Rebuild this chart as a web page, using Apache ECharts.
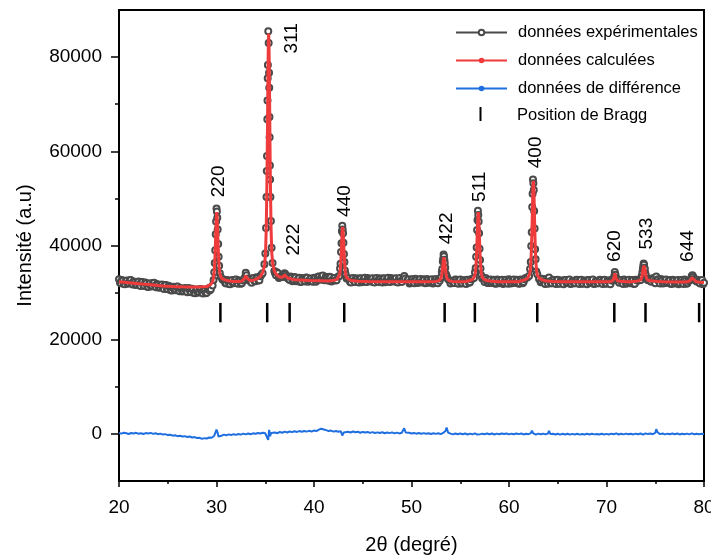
<!DOCTYPE html>
<html>
<head>
<meta charset="utf-8">
<script src="https://cdn.jsdelivr.net/npm/echarts@6/dist/echarts.min.js"></script>
<style>
  html, body { margin: 0; padding: 0; background: #fff; }
  #chart { width: 711px; height: 558px; }
</style>
</head>
<body>
<div id="chart"></div>
<script>
// Rietveld refinement of a spinel ferrite powder pattern: observed, calculated,
// difference curves, Bragg reflection positions and (hkl) indexing.

// Observed intensities [2θ (°), counts] — even tenths and peak scans
const experimental = [
  [20.0,32850],[20.2,31980],[20.4,32540],[20.6,31760],[20.8,32590],[21.0,32050],[21.2,32660],[21.4,31700],
  [21.6,32200],[21.8,31740],[22.0,32350],[22.2,31380],[22.4,32270],[22.6,31400],[22.8,31960],[23.0,31180],
  [23.2,32010],[23.4,31470],[23.6,32080],[23.8,31120],[24.0,31620],[24.2,31120],[24.4,31740],[24.6,30780],
  [24.8,31630],[25.0,30720],[25.2,31250],[25.4,30440],[25.6,31240],[25.8,30670],[26.0,31270],[26.2,30300],
  [26.4,30800],[26.6,30340],[26.8,30990],[27.0,30070],[27.2,30950],[27.4,30080],[27.6,30640],[27.8,29850],
  [28.0,30680],[28.2,30140],[28.4,30740],[28.6,29810],[28.8,30420],[29.0,29980],[29.2,30900],
  [29.42,30700],[29.60,31500],[29.70,32700],[29.77,34300],[29.82,36300],[29.87,39000],[29.92,42400],[29.96,45100],
  [30.00,47850],[30.04,47200],[30.08,45900],[30.12,43400],[30.17,40300],[30.22,37600],[30.27,35700],[30.34,34100],
  [30.44,33300],[30.62,32800],
  [30.8,32750],[31.0,31920],[31.2,32520],[31.4,31780],[31.6,32650],[31.8,32150],[32.0,32800],[32.2,31880],
  [32.4,32420],[32.6,32000],[32.8,32700],[32.9,33200],[33.0,34200],[33.08,33700],[33.18,33000],[33.3,32600],
  [33.4,32900],[33.6,32070],[33.8,33100],[34.0,32420],[34.2,33170],[34.4,32630],[34.6,33800],
  [34.73,34100],[34.91,36000],[35.01,38300],[35.08,43700],[35.13,50300],[35.16,55800],[35.18,59000],[35.21,66800],
  [35.23,70800],[35.25,75500],[35.27,78300],[35.31,85500],[35.35,83000],[35.39,76700],[35.41,73500],[35.43,67300],
  [35.45,63000],[35.48,57000],[35.50,54000],[35.53,50300],[35.58,45200],[35.65,39500],[35.75,36300],[35.93,34600],
  [36.0,34150],[36.2,34300],[36.4,33080],[36.6,33420],
  [36.8,33300],[36.9,33700],[36.98,34100],[37.06,33900],[37.14,33500],[37.26,33100],
  [37.4,32900],[37.6,33400],[37.8,32420],[38.0,33300],[38.2,32420],[38.4,33020],[38.6,32230],[38.8,33100],
  [39.0,32550],[39.2,33200],[39.4,32280],[39.6,32820],[39.8,32400],[40.0,33150],[40.2,32320],[40.4,33350],
  [40.6,32720],[40.8,33520],[41.0,32680],[41.2,33350],[41.4,32750],[41.6,33350],[41.8,32380],[42.0,32920],
  [42.2,32550],
  [42.32,32600],[42.50,33400],[42.60,33500],[42.67,35100],[42.72,36100],[42.77,38600],[42.82,40500],[42.86,43000],
  [42.90,44200],[42.94,43400],[42.98,42600],[43.02,40600],[43.07,38200],[43.12,36500],[43.17,34700],[43.24,33900],
  [43.34,33000],[43.52,32900],
  [43.6,33050],[43.8,32170],[44.0,33100],[44.2,32270],[44.4,32870],[44.6,32130],[44.8,33000],[45.0,32500],
  [45.2,33150],[45.4,32230],[45.6,32770],[45.8,32350],[46.0,33050],[46.2,32170],[46.4,33100],[46.6,32270],
  [46.8,32870],[47.0,32130],[47.2,33000],[47.4,32500],[47.6,33150],[47.8,32230],[48.0,32770],[48.2,32350],
  [48.4,33050],[48.6,32170],[48.8,33100],[49.0,32270],[49.15,33000],[49.26,33500],[49.35,33000],
  [49.6,32670],[49.8,31930],[50.0,32800],[50.2,32300],[50.4,32950],[50.6,32030],[50.8,32570],[51.0,32150],
  [51.2,32850],[51.4,31970],[51.6,32900],[51.8,32070],[52.0,32670],[52.2,31930],[52.4,32800],[52.6,32300],
  [52.8,32950],
  [52.89,32500],[52.99,33100],[53.06,33300],[53.11,34400],[53.16,35000],[53.21,36600],[53.25,37200],[53.29,38100],
  [53.33,37700],[53.37,37000],[53.41,36300],[53.46,35300],[53.51,34000],[53.56,33700],[53.63,33400],[53.73,32900],
  [53.91,32500],
  [54.0,31930],[54.2,32470],[54.4,32050],[54.6,32750],[54.8,31870],[55.0,32800],[55.2,31970],[55.4,32570],
  [55.6,31830],[55.8,32700],[56.0,32200],
  [56.23,32900],[56.41,33100],[56.51,34300],[56.58,35200],[56.63,37600],[56.68,39600],[56.73,43300],[56.77,45400],
  [56.81,47400],[56.85,46500],[56.89,45100],[56.93,42600],[56.98,39300],[57.03,36900],[57.08,35100],[57.15,33700],
  [57.25,33000],[57.43,32800],
  [57.6,33100],[57.8,32030],[58.0,32470],[58.2,32050],[58.4,32750],[58.6,31870],[58.8,32800],[59.0,31970],
  [59.2,32570],[59.4,31830],[59.6,32700],[59.8,32200],[60.0,32850],[60.2,31930],[60.4,32470],[60.6,32050],
  [60.8,32750],[61.0,31870],[61.2,32800],[61.4,31970],[61.6,32820],
  [61.88,33200],[62.06,33500],[62.16,35000],[62.23,36500],[62.28,39900],[62.33,42800],[62.38,48200],[62.42,51000],
  [62.46,54000],[62.50,53200],[62.54,51800],[62.58,47300],[62.63,43600],[62.68,39200],[62.73,37100],[62.80,34500],
  [62.90,33900],[63.08,32900],
  [63.25,32180],[63.4,32950],[63.6,32300],[63.8,32850],[64.0,31900],[64.1,33200],[64.2,32420],[64.4,32000],
  [64.6,32700],[64.8,31820],[65.0,32750],[65.2,31920],[65.4,32520],[65.6,31780],[65.8,32650],[66.0,32150],
  [66.2,32800],[66.4,31880],[66.6,32420],[66.8,32000],[67.0,32700],[67.2,31820],[67.4,32750],[67.6,31920],
  [67.8,32520],[68.0,31780],[68.2,32650],[68.4,32150],[68.6,32800],[68.8,31880],[69.0,32420],[69.2,32000],
  [69.4,32700],[69.6,31820],[69.8,32750],[70.0,31920],[70.2,32520],[70.4,31780],
  [70.6,32500],[70.7,32850],[70.78,33400],[70.85,34400],[70.92,33800],[71.0,33100],[71.1,32700],[71.25,32400],
  [71.4,32650],[71.6,32150],[71.8,32800],[72.0,31880],[72.2,32420],[72.4,32000],[72.6,32700],[72.8,31820],
  [73.0,32750],
  [73.23,32500],[73.41,32800],[73.51,32700],[73.58,33300],[73.63,33500],[73.68,34300],[73.73,35000],[73.77,35600],
  [73.81,36200],[73.85,35900],[73.89,35300],[73.93,35000],[73.98,34100],[74.03,33700],[74.08,33000],[74.15,32900],
  [74.25,32600],[74.43,32700],
  [74.6,32320],[74.8,32820],[75.0,31980],[75.1,33400],[75.2,32800],[75.4,32250],[75.6,32900],[75.8,31930],
  [76.0,32470],[76.2,32050],[76.4,32700],[76.6,31820],[76.8,32750],[77.0,31920],[77.2,32520],[77.4,31780],
  [77.6,32650],[77.8,32150],[78.0,32800],[78.2,31880],
  [78.4,32450],[78.55,32600],[78.65,32900],[78.74,33500],[78.82,33700],[78.9,33300],[79.0,32900],[79.1,32600],
  [79.24,32350],[79.4,32370],[79.6,31950],[79.8,32650],[80.0,32100]
];

// Observed intensities [2θ (°), counts] — odd tenths of the background scan
const experimentalOdd = [
  [20.1,32100],[20.3,32690],[20.5,31800],[20.7,32390],[20.9,31860],[21.1,32600],[21.3,31990],[21.5,32370],
  [21.7,31610],[21.9,32240],[22.1,31700],[22.3,32240],[22.5,31550],[22.7,32140],[22.9,31250],[23.1,31840],
  [23.3,31310],[23.5,32050],[23.7,31440],[23.9,31810],[24.1,31040],[24.3,31630],[24.5,31120],[24.7,31620],
  [24.9,30890],[25.1,31440],[25.3,30520],[25.5,31080],[25.7,30520],[25.9,31240],[26.1,30620],[26.3,31000],
  [26.5,30240],[26.7,30860],[26.9,30390],[27.1,30920],[27.3,30230],[27.5,30820],[27.7,29920],[27.9,30510],
  [28.1,29980],[28.3,30710],[28.5,30110],[28.7,30560],[28.9,29870],[29.1,30650],[29.3,30420],
  [30.7,32700],[30.9,32050],[31.1,32680],[31.3,31830],[31.5,32460],[31.7,31970],[31.9,32750],[32.1,32180],
  [32.3,32600],[32.5,31880],[32.7,32550],[33.5,32340],[33.7,33000],[33.9,32470],[34.1,33250],[34.3,32580],
  [34.5,33460],[36.1,33670],[36.3,34100],[36.5,33280],[36.7,33600],
  [37.5,32680],[37.7,33200],[37.9,32690],[38.1,33220],[38.3,32550],[38.5,33160],[38.7,32280],[38.9,32880],
  [39.1,32370],[39.3,33150],[39.5,32580],[39.7,33000],[39.9,32300],[40.1,33030],[40.3,32670],[40.5,33400],
  [40.7,32950],[40.9,33630],[41.1,32630],[41.3,33110],[41.5,32540],[41.7,33270],[41.9,32680],[42.1,33120],
  [43.7,32230],[43.9,32900],[44.1,32470],[44.3,33050],[44.5,32400],[44.7,33030],[44.9,32180],[45.1,32810],
  [45.3,32320],[45.5,33100],[45.7,32530],[45.9,32950],[46.1,32230],[46.3,32900],[46.5,32470],[46.7,33050],
  [46.9,32400],[47.1,33030],[47.3,32180],[47.5,32810],[47.7,32320],[47.9,33100],[48.1,32530],[48.3,32950],
  [48.5,32230],[48.7,32900],[48.9,32470],
  [49.7,32850],[49.9,32200],[50.1,32830],[50.3,31980],[50.5,32610],[50.7,32120],[50.9,32900],[51.1,32330],
  [51.3,32750],[51.5,32030],[51.7,32700],[51.9,32270],[52.1,32850],[52.3,32200],[52.5,32830],[52.7,31980],
  [54.1,32510],[54.3,32020],[54.5,32800],[54.7,32230],[54.9,32650],[55.1,31930],[55.3,32600],[55.5,32170],
  [55.7,32750],[55.9,32100],[56.1,32830],
  [57.5,32230],[57.7,32660],[57.9,32020],[58.1,32800],[58.3,32230],[58.5,32650],[58.7,31930],[58.9,32600],
  [59.1,32170],[59.3,32750],[59.5,32100],[59.7,32730],[59.9,31880],[60.1,32510],[60.3,32020],[60.5,32800],
  [60.7,32230],[60.9,32650],[61.1,31930],[61.3,32600],[61.5,32250],[61.7,33100],
  [63.3,32400],[63.5,32880],[63.7,31830],[63.9,32460],[64.3,31970],[64.5,32750],[64.7,32180],[64.9,32600],
  [65.1,31880],[65.3,32550],[65.5,32120],[65.7,32700],[65.9,32050],[66.1,32680],[66.3,31830],[66.5,32460],
  [66.7,31970],[66.9,32750],[67.1,32180],[67.3,32600],[67.5,31880],[67.7,32550],[67.9,32120],[68.1,32700],
  [68.3,32050],[68.5,32680],[68.7,31830],[68.9,32460],[69.1,31970],[69.3,32750],[69.5,32180],[69.7,32600],
  [69.9,31880],[70.1,32550],[70.3,32120],[70.5,32750],
  [71.3,32100],[71.5,32680],[71.7,31830],[71.9,32460],[72.1,31970],[72.3,32750],[72.5,32180],[72.7,32600],
  [72.9,31880],[73.1,32650],
  [74.5,32520],[74.7,33050],[74.9,32300],[75.3,32800],[75.5,31930],[75.7,32540],[75.9,32020],[76.1,32800],
  [76.3,32200],[76.5,32600],[76.7,31880],[76.9,32550],[77.1,32120],[77.3,32700],[77.5,32050],[77.7,32680],
  [77.9,31830],[78.1,32460],[78.3,31990],[79.3,32750],[79.5,32130],[79.7,32550],[79.9,31780]
];

// Refined (calculated) profile [2θ (°), counts]
const calculated = [
  [20.0,32300],[20.5,32200],[21,32100],[21.5,32000],[22,31900],[22.5,31800],[23,31700],[23.5,31600],
  [24,31500],[24.5,31420],[25,31350],[25.5,31300],[26,31260],[26.5,31230],[27,31210],[27.5,31200],
  [28,31210],[28.5,31230],[29.0,31280],[29.17,31330],
  [29.42,31750],[29.60,32300],[29.70,33100],[29.77,34550],[29.82,36400],[29.86,38400],[29.90,40900],[29.94,43600],
  [29.98,45750],[30.02,47100],[30.06,46250],[30.10,44100],[30.14,41600],[30.18,39100],[30.22,37250],[30.27,35450],
  [30.34,34050],[30.44,33350],[30.62,32900],[30.87,32680],
  [31.3,32450],[31.8,32380],[32.3,32380],[32.6,32420],[32.8,32600],[32.9,33000],[32.97,33600],[33.03,33900],
  [33.09,33600],[33.16,33050],[33.26,32700],[33.45,32500],[33.8,32650],[34.1,32850],[34.3,33100],
  [34.50,33450],[34.75,34270],[34.93,35840],[35.03,38450],[35.10,43420],[35.15,49960],[35.19,56760],[35.23,65440],
  [35.27,74540],[35.31,82020],[35.35,85000],[35.39,82020],[35.43,74540],[35.47,65440],[35.51,56760],[35.55,49960],
  [35.60,43420],[35.67,38450],[35.77,36040],[35.95,34470],[36.20,33700],[36.45,33300],[36.6,33150],
  [36.8,33250],[36.9,33500],[36.97,33800],[37.03,33900],[37.09,33800],[37.16,33450],[37.26,33150],[37.45,32950],
  [37.8,32800],[38.5,32650],[39.5,32550],[40.5,32500],[41.5,32450],
  [42.09,32620],[42.34,32800],[42.52,33140],[42.62,33715],[42.69,34810],[42.74,36250],[42.78,37740],[42.82,39650],
  [42.86,41650],[42.90,43295],[42.94,43950],[42.98,43295],[43.02,41650],[43.06,39650],[43.10,37740],[43.14,36250],
  [43.19,34810],[43.26,33660],[43.36,33090],[43.54,32750],[43.79,32570],
  [44.5,32400],[45.5,32350],[47,32300],[48.5,32300],[50,32300],[51.5,32300],
  [52.48,32380],[52.73,32465],[52.91,32630],[53.01,32905],[53.08,33430],[53.13,34115],[53.17,34830],[53.21,35740],
  [53.25,36700],[53.29,37490],[53.33,37800],[53.37,37490],[53.41,36700],[53.45,35740],[53.49,34830],[53.53,34115],
  [53.58,33430],[53.65,32905],[53.75,32630],[53.93,32465],[54.18,32380],
  [55,32330],[55.6,32350],
  [56.00,32570],[56.25,32790],[56.43,33235],[56.53,33970],[56.60,35370],[56.65,37220],[56.69,39135],[56.73,41585],
  [56.77,44150],[56.81,46260],[56.85,47100],[56.89,46260],[56.93,44150],[56.97,41585],[57.01,39135],[57.05,37220],
  [57.10,35370],[57.17,33970],[57.27,33235],[57.45,32790],[57.70,32570],
  [58.2,32400],[59,32320],[60,32300],[61,32320],
  [61.65,32720],[61.90,33040],[62.08,33680],[62.18,34740],[62.25,36770],[62.30,39430],[62.34,42200],[62.38,45730],
  [62.42,49440],[62.46,52490],[62.50,53700],[62.54,52490],[62.58,49440],[62.62,45730],[62.66,42200],[62.70,39430],
  [62.75,36770],[62.82,34740],[62.92,33680],[63.10,33040],[63.35,32720],
  [63.8,32450],[64.5,32350],[65.5,32300],[67,32300],[68.5,32300],[70,32300],
  [70.45,32350],[70.6,32450],[70.7,32700],[70.77,33100],[70.82,33600],[70.87,34100],[70.92,33600],[70.97,33100],
  [71.05,32700],[71.15,32450],[71.35,32330],
  [72,32300],[72.6,32320],
  [73.00,32400],[73.25,32460],[73.43,32560],[73.53,32740],[73.60,33080],[73.65,33520],[73.69,33980],[73.73,34570],
  [73.77,35190],[73.81,35700],[73.85,35900],[73.89,35700],[73.93,35190],[73.97,34570],[74.01,33980],[74.05,33520],
  [74.10,33080],[74.17,32740],[74.27,32560],[74.45,32460],
  [74.8,32450],[75.3,32380],[76,32300],[77,32250],[78,32250],
  [78.3,32280],[78.5,32400],[78.6,32550],[78.67,32800],[78.73,33150],[78.8,33500],[78.87,33200],[78.94,32850],
  [79.02,32550],[79.15,32350],[79.4,32260],[79.7,32200],[80,32150]
];

// Difference curve (observed − calculated) [2θ (°), counts]
const difference = [
  [20.00,180],[20.25,60],[20.50,250],[20.75,120],[21.00,-20],[21.25,200],[21.50,90],[21.75,230],
  [22.00,40],[22.25,150],[22.50,-30],[22.75,170],[23.00,80],[23.25,220],[23.50,10],[23.75,130],
  [24.00,-60],[24.25,60],[24.50,-150],[24.75,-50],[25.00,-250],[25.25,-180],[25.50,-380],[25.75,-300],
  [26.00,-480],[26.25,-400],[26.50,-560],[26.75,-480],[27.00,-650],[27.25,-560],[27.50,-760],[27.75,-680],
  [28.00,-880],[28.25,-800],[28.50,-1050],[28.75,-900],[29.00,-980],[29.25,-760],[29.50,-820],[29.75,-450],
  [29.90,-200],[30.00,900],[30.05,650],[30.12,200],[30.20,-550],[30.30,-300],[30.50,-400],[30.75,-150],
  [31.00,-300],[31.25,-100],[31.50,-250],[31.75,-60],[32.00,-200],[32.25,-20],[32.50,-150],[32.75,50],
  [33.00,-100],[33.25,80],[33.50,-60],[33.75,120],[34.00,20],[34.25,200],[34.50,80],[34.75,250],
  [35.00,120],[35.20,350],[35.30,-1250],[35.40,850],[35.50,-500],[35.60,200],[35.75,-200],[36.00,300],
  [36.25,150],[36.50,400],[36.75,250],[37.00,480],[37.25,300],[37.50,520],[37.75,380],[38.00,560],
  [38.25,420],[38.50,600],[38.75,450],[39.00,620],[39.25,480],[39.50,650],[39.75,520],[40.00,700],
  [40.25,600],[40.50,900],[40.75,1100],[40.90,1250],[41.00,950],[41.25,800],[41.50,600],[41.75,700],
  [42.00,480],[42.25,620],[42.50,450],[42.75,550],[42.90,-350],[43.05,300],[43.25,150],[43.50,450],
  [43.75,300],[44.00,500],[44.25,350],[44.50,450],[44.75,250],[45.00,420],[45.25,280],[45.50,400],
  [45.75,220],[46.00,380],[46.25,200],[46.50,330],[46.75,180],[47.00,350],[47.25,150],[47.50,300],
  [47.75,160],[48.00,320],[48.25,120],[48.50,280],[48.75,100],[49.00,250],[49.25,1200],[49.40,300],
  [49.50,150],[49.75,230],[50.00,80],[50.25,200],[50.50,50],[50.75,180],[51.00,30],[51.25,160],
  [51.50,20],[51.75,140],[52.00,-20],[52.25,120],[52.50,0],[52.75,150],[53.00,-50],[53.25,200],
  [53.50,650],[53.60,1350],[53.75,300],[54.00,50],[54.25,-100],[54.50,80],[54.75,-80],[55.00,100],
  [55.25,-60],[55.50,90],[55.75,-120],[56.00,60],[56.25,-90],[56.50,120],[56.75,-150],[56.90,250],
  [57.00,-100],[57.25,50],[57.50,-80],[57.75,100],[58.00,-60],[58.25,80],[58.50,-120],[58.75,60],
  [59.00,-80],[59.25,90],[59.50,-40],[59.75,70],[60.00,-100],[60.25,50],[60.50,-70],[60.75,100],
  [61.00,-50],[61.25,80],[61.50,-110],[61.75,40],[62.00,-60],[62.25,150],[62.35,700],[62.50,100],
  [62.75,-150],[63.00,60],[63.25,-80],[63.50,50],[63.75,-100],[64.00,80],[64.10,650],[64.25,-50],
  [64.50,40],[64.75,-120],[65.00,30],[65.25,-150],[65.50,20],[65.75,-130],[66.00,40],[66.25,-160],
  [66.50,0],[66.75,-120],[67.00,30],[67.25,-150],[67.50,-20],[67.75,-140],[68.00,20],[68.25,-130],
  [68.50,40],[68.75,-100],[69.00,-20],[69.25,-140],[69.50,30],[69.75,-110],[70.00,10],[70.25,-120],
  [70.50,50],[70.75,-80],[71.00,100],[71.25,-130],[71.50,20],[71.75,-100],[72.00,60],[72.25,-80],
  [72.50,30],[72.75,-110],[73.00,50],[73.25,-60],[73.50,80],[73.75,-150],[74.00,120],[74.25,-40],
  [74.50,90],[74.75,-70],[75.00,200],[75.10,1000],[75.25,300],[75.50,-50],[75.75,80],[76.00,-100],
  [76.25,50],[76.50,-90],[76.75,70],[77.00,-60],[77.25,90],[77.50,-110],[77.75,40],[78.00,-70],
  [78.25,60],[78.50,-100],[78.75,120],[79.00,-80],[79.25,50],[79.50,-60],[79.75,30],[80.00,-40]
];

// Bragg reflection positions (2θ) and the intensity span of their tick marks
const braggTheta = [30.4, 35.2, 37.5, 43.1, 53.4, 56.5, 62.9, 70.8, 74.0, 79.5];
const braggSpan = [23700, 27800];

// Miller indices with the anchor (2θ, counts) of each vertical label
const hklLabels = ['220', '311', '222', '440', '422', '511', '400', '620', '533', '644'];
const hklTheta  = [30.2, 37.7, 37.97, 43.18, 53.6, 57.03, 62.7, 70.87, 74.12, 78.3];
const hklCounts = [50250, 80760, 37900, 46070, 40270, 49250, 56400, 36520, 39150, 36520];

// Intensity axis ticks
const yMajorTicks = [0, 20000, 40000, 60000, 80000];
const yMinorTicks = [10000, 30000, 50000, 70000];

const FONT = '"Liberation Sans", Arial, Helvetica, sans-serif';
const byTheta = (a, b) => a[0] - b[0];

const chart = echarts.init(document.getElementById('chart'), null, { renderer: 'canvas' });

const axisLine = { show: true, onZero: false, lineStyle: { color: '#000', width: 2 } };
const legendText = { fontSize: 16.5, fontFamily: FONT, color: '#000', padding: [0, 0, 0, 6] };

chart.setOption({
  animation: false,
  backgroundColor: '#fff',
  grid: {
    left: 119, right: 7, top: 10, bottom: 77,
    outerBoundsMode: 'none', containLabel: false,
    show: true, borderColor: '#000', borderWidth: 2, backgroundColor: 'transparent'
  },
  legend: [
    {
      data: [
        { name: 'données expérimentales' },
        { name: 'données calculées', lineStyle: { width: 2 } },
        { name: 'données de différence', lineStyle: { width: 2 } }
      ],
      orient: 'vertical', left: 450, top: 19,
      itemWidth: 51, itemHeight: 7, itemGap: 11,
      selectedMode: false,
      textStyle: legendText
    },
    {
      // bar glyph centred in a 51 px wide icon box
      data: [{ name: 'Position de Bragg', icon: 'path://M0,0M51,17M24.5,0H26.5V14H24.5Z' }],
      orient: 'vertical', left: 450, top: 102,
      itemWidth: 51, itemHeight: 17,
      selectedMode: false,
      textStyle: legendText
    }
  ],
  xAxis: {
    type: 'value', min: 20, max: 80, interval: 10,
    axisLine: axisLine,
    axisTick: { show: true, length: 6, lineStyle: { color: '#000', width: 1.5 } },
    minorTick: { show: true, splitNumber: 2, length: 3, lineStyle: { color: '#000', width: 1.5 } },
    splitLine: { show: false },
    axisLabel: { fontSize: 19, fontFamily: FONT, color: '#000', margin: 17 },
    name: '2θ (degré)', nameLocation: 'middle', nameGap: 54,
    nameTextStyle: { fontSize: 20, fontFamily: FONT, color: '#000' }
  },
  yAxis: [
    {
      type: 'value', min: -10000, max: 90000, interval: 10000,
      axisLine: axisLine,
      axisTick: { show: true, length: 8, customValues: yMajorTicks, lineStyle: { color: '#000', width: 1.5 } },
      axisLabel: {
        customValues: yMajorTicks, fontSize: 19, fontFamily: FONT, color: '#000', margin: 17,
        formatter: v => String(v)
      },
      splitLine: { show: false },
      name: 'Intensité (a.u)', nameLocation: 'middle', nameGap: 84,
      nameTextStyle: { fontSize: 20, fontFamily: FONT, color: '#000' }
    },
    {
      type: 'value', min: -10000, max: 90000, interval: 10000, position: 'left',
      axisLine: { show: false },
      axisTick: { show: true, length: 4, customValues: yMinorTicks, lineStyle: { color: '#000', width: 1.5 } },
      axisLabel: { show: false },
      splitLine: { show: false }
    }
  ],
  series: [
    {
      name: 'données expérimentales', type: 'line',
      data: experimental.concat(experimentalOdd).sort(byTheta),
      symbol: 'emptyCircle', symbolSize: 6, showAllSymbol: true,
      lineStyle: { color: '#4a4a4a', width: 1 },
      itemStyle: { color: '#4a4a4a', borderWidth: 1 },
      z: 2, silent: true
    },
    {
      name: 'données calculées', type: 'line',
      data: calculated.slice().sort(byTheta),
      showSymbol: false, symbol: 'circle',
      lineStyle: { color: '#ef3b3b', width: 3 },
      itemStyle: { color: '#ef3b3b' },
      z: 3, silent: true
    },
    {
      name: 'données de différence', type: 'line',
      data: difference.slice().sort(byTheta),
      showSymbol: false, symbol: 'circle',
      lineStyle: { color: '#1f6fe0', width: 2 },
      itemStyle: { color: '#1f6fe0' },
      z: 3, silent: true
    },
    {
      name: 'Position de Bragg', type: 'custom',
      data: braggTheta.map(t => [t, braggSpan[1]]),
      itemStyle: { color: '#000' },
      silent: true,
      renderItem: (params, api) => {
        const t = api.value(0);
        const top = api.coord([t, braggSpan[1]]);
        const bottom = api.coord([t, braggSpan[0]]);
        return {
          type: 'line',
          shape: { x1: top[0], y1: top[1], x2: bottom[0], y2: bottom[1] },
          style: { stroke: '#000', lineWidth: 2.5 }
        };
      }
    },
    {
      name: 'hkl', type: 'custom',
      data: hklTheta.map((t, i) => [t, hklCounts[i]]),
      silent: true, z: 5,
      renderItem: (params, api) => {
        const p = api.coord([api.value(0), api.value(1)]);
        return {
          type: 'text', x: p[0], y: p[1], rotation: Math.PI / 2,
          style: {
            text: hklLabels[params.dataIndex],
            fontSize: 19, fontFamily: FONT, fill: '#000',
            align: 'left', verticalAlign: 'middle'
          }
        };
      }
    }
  ]
});
</script>
</body>
</html>
